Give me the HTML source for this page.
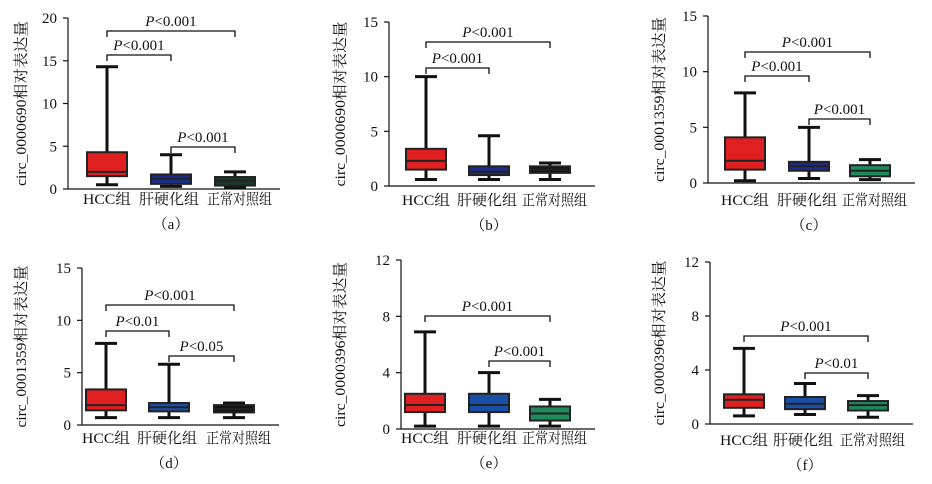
<!DOCTYPE html><html><head><meta charset="utf-8"><style>body{margin:0;background:#fff}svg{display:block}text{font-family:"Liberation Serif","Noto Serif CJK SC",serif;fill:#111}</style></head><body>
<svg id="s" width="932" height="484" xmlns="http://www.w3.org/2000/svg"></svg>
<script>
const P=[
{ax:68,top:18,zero:189,max:20,ticks:[0,5,10,15,20],gx:[107,171,235],ylab:"circ_0000690相对表达量",lx:26,lab:"a",ly:204,
 boxes:[[0.5,1.5,2,4.3,14.3,"#e02020"],[0.3,0.6,1.2,1.7,4,"#1a2d8c"],[0.2,0.4,1,1.4,2,"#173a2a"]],
 br:[[0,2,31,"P<0.001"],[0,1,55,"P<0.001"],[1,2,147,"P<0.001"]]},
{ax:389,top:22,zero:186,max:15,ticks:[0,5,10,15],gx:[426,489,550],ylab:"circ_0000690相对表达量",lx:345,lab:"b",ly:205,
 boxes:[[0.6,1.5,2.3,3.4,10,"#e02020"],[0.6,1,1.3,1.8,4.6,"#1a2d8c"],[0.6,1.2,1.5,1.8,2.1,"#111"]],
 br:[[0,2,42,"P<0.001"],[0,1,68,"P<0.001"]]},
{ax:708,top:16,zero:183,max:15,ticks:[0,5,10,15],gx:[745,809,870],ylab:"circ_0001359相对表达量",lx:664,lab:"c",ly:205,
 boxes:[[0.2,1.2,2,4.1,8.1,"#e02020"],[0.4,1.1,1.5,1.9,5,"#1a2d8c"],[0.3,0.6,1.1,1.6,2.1,"#1f8a5a"]],
 br:[[0,2,52,"P<0.001"],[0,1,76,"P<0.001"],[1,2,119,"P<0.001"]]},
{ax:82,top:268,zero:425,max:15,ticks:[0,5,10,15],gx:[106,169,234],ylab:"circ_0001359相对表达量",lx:26,lab:"d",ly:443,
 boxes:[[0.7,1.4,1.9,3.4,7.8,"#e02020"],[0.7,1.3,1.7,2.1,5.8,"#1a4fa8"],[0.7,1.2,1.5,1.9,2.1,"#111"]],
 br:[[0,2,305,"P<0.001"],[0,1,331,"P<0.01"],[1,2,356,"P<0.05"]]},
{ax:401,top:260,zero:429,max:12,ticks:[0,4,8,12],gx:[425,489,550],ylab:"circ_0000396相对表达量",lx:345,lab:"e",ly:443,
 boxes:[[0.2,1.2,1.7,2.5,6.9,"#e02020"],[0.2,1.2,1.7,2.5,4,"#1a4fa8"],[0.2,0.6,1.1,1.6,2.1,"#1f8a5a"]],
 br:[[0,2,316,"P<0.001"],[1,2,361,"P<0.001"]]},
{ax:710,top:262,zero:424,max:12,ticks:[0,4,8,12],gx:[744,805,868],ylab:"circ_0000396相对表达量",lx:664,lab:"f",ly:445,
 boxes:[[0.6,1.2,1.8,2.2,5.6,"#e02020"],[0.7,1.1,1.5,2,3,"#1a4fa8"],[0.5,1,1.4,1.7,2.1,"#1f8a5a"]],
 br:[[0,2,336,"P<0.001"],[1,2,373,"P<0.01"]]}
];
const names=["HCC组","肝硬化组","正常对照组"];
let h="";
for(const p of P){
 const y=v=>p.zero-(p.zero-p.top)*v/p.max;
 h+=`<line x1="${p.ax}" y1="${p.top}" x2="${p.ax}" y2="${p.zero}" stroke="#111" stroke-width="1.2"/>`;
 h+=`<line x1="${p.ax}" y1="${p.zero}" x2="${p.gx[2]+45}" y2="${p.zero}" stroke="#111" stroke-width="1.2"/>`;
 for(const t of p.ticks){h+=`<line x1="${p.ax-5}" y1="${y(t)}" x2="${p.ax}" y2="${y(t)}" stroke="#111" stroke-width="1.2"/><text x="${p.ax-11}" y="${y(t)+5}" font-size="15" text-anchor="end">${t}</text>`;}
 const cy=(p.top+p.zero)/2;
 h+=`<text transform="translate(${p.lx},${cy}) rotate(-90)" font-size="15" text-anchor="middle" textLength="${Math.min(165,p.zero-p.top+5)}" lengthAdjust="spacingAndGlyphs">${p.ylab}</text>`;
 const lw=[48,60,65], lo=[-24,-32,-28];
 p.boxes.forEach((b,i)=>{const x=p.gx[i];
  h+=`<line x1="${x}" y1="${y(b[0])}" x2="${x}" y2="${y(b[4])}" stroke="#111" stroke-width="3"/>`;
  h+=`<line x1="${x-11}" y1="${y(b[0])}" x2="${x+11}" y2="${y(b[0])}" stroke="#111" stroke-width="3"/><line x1="${x-11}" y1="${y(b[4])}" x2="${x+11}" y2="${y(b[4])}" stroke="#111" stroke-width="3"/>`;
  h+=`<rect x="${x-20}" y="${y(b[3])}" width="40" height="${y(b[1])-y(b[3])}" fill="${b[5]}" stroke="#222" stroke-width="2"/>`;
  h+=`<line x1="${x-20}" y1="${y(b[2])}" x2="${x+20}" y2="${y(b[2])}" stroke="#222" stroke-width="2"/>`;
  h+=`<text x="${x+lo[i]}" y="${p.ly}" font-size="15" textLength="${lw[i]}" lengthAdjust="spacingAndGlyphs">${names[i]}</text>`;
 });
 for(const r of p.br){const a=p.gx[r[0]],c=p.gx[r[1]];
  h+=`<path d="M${a} ${r[2]+6}V${r[2]}H${c}V${r[2]+6}" fill="none" stroke="#111" stroke-width="1.3"/>`;
  h+=`<text x="${(a+c)/2}" y="${r[2]-5}" font-size="15" text-anchor="middle"><tspan font-style="italic">P</tspan>${r[3].slice(1)}</text>`;}
 h+=`<text x="${p.gx[1]}" y="${p.ly+25}" font-size="15" text-anchor="middle">（${p.lab}）</text>`;
}
document.getElementById("s").innerHTML=h;
</script></body></html>
